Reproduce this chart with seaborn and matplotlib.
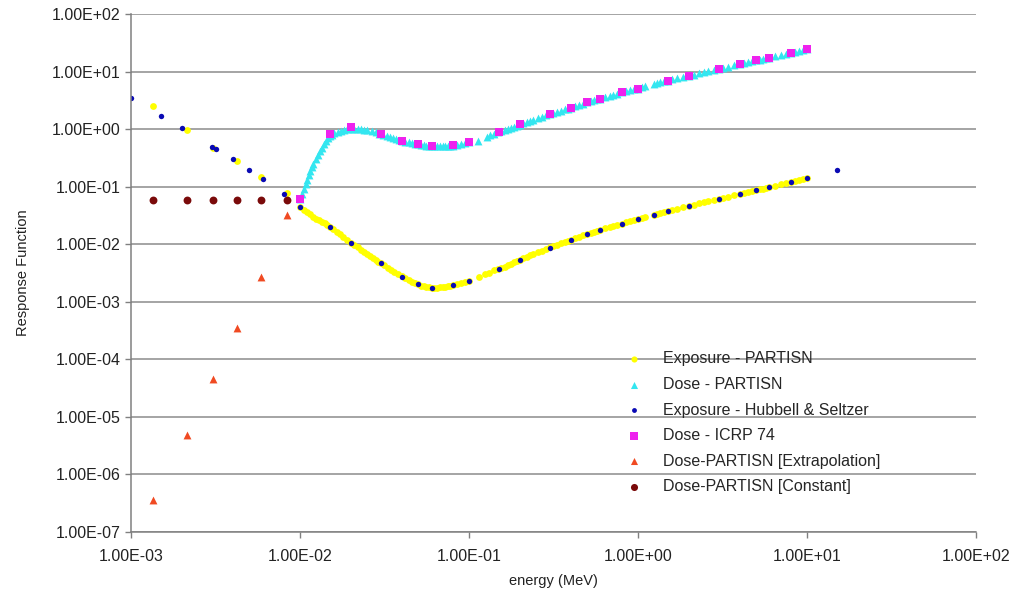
import numpy as np
import pandas as pd
import matplotlib
matplotlib.use("Agg")
import matplotlib.pyplot as plt
import matplotlib.ticker as mticker
import seaborn as sns

# --- data (energy in MeV) ---
exp_partisn_e = [0.00135, 0.00214, 0.00307, 0.00426, 0.00585, 0.0084,
                 0.0100, 0.0105, 0.0110, 0.0115, 0.0120, 0.0125, 0.0130, 0.0135,
                 0.0140, 0.0145, 0.0150, 0.0157, 0.0165, 0.0172, 0.0180, 0.0190,
                 0.0200, 0.0210, 0.0220, 0.0230, 0.0240, 0.0250, 0.0260, 0.0270,
                 0.0280, 0.0290, 0.0300, 0.0315, 0.0330, 0.0345, 0.0360, 0.0380,
                 0.0400, 0.0420, 0.0440, 0.0460, 0.0480, 0.0500, 0.0520, 0.0540,
                 0.0560, 0.0580, 0.0600, 0.0625, 0.0650, 0.0675, 0.0700, 0.0725,
                 0.0750, 0.0775, 0.0800, 0.0850, 0.0900, 0.0950, 0.1000, 0.1150,
                 0.1250, 0.1320, 0.1400, 0.1475, 0.1550, 0.1625, 0.1700, 0.1775,
                 0.1850, 0.1925, 0.2000, 0.2100, 0.2200, 0.2300, 0.2400, 0.2550,
                 0.2700, 0.2850, 0.3000, 0.3150, 0.3300, 0.3500, 0.3700, 0.3850,
                 0.4000, 0.4250, 0.4500, 0.4750, 0.5000, 0.5250, 0.5500, 0.5750,
                 0.6000, 0.6400, 0.6800, 0.7150, 0.7500, 0.8000, 0.8500, 0.9000,
                 0.9500, 1.0000, 1.0500, 1.1000, 1.2500, 1.3000, 1.3500, 1.4200,
                 1.5000, 1.6000, 1.7000, 1.8500, 2.0000, 2.1500, 2.3000, 2.4500,
                 2.6000, 2.8000, 3.0000, 3.2000, 3.4000, 3.7000, 4.0000, 4.2500,
                 4.5000, 4.7500, 5.0000, 5.2500, 5.5000, 5.7500, 6.0000, 6.5000,
                 7.0000, 7.5000, 8.0000, 8.5000, 9.0000, 9.5000, 10.000]
exp_partisn_v = [2.5, 0.97, 0.47, 0.28, 0.15, 0.077,
                 0.0450, 0.0400, 0.0360, 0.0330, 0.0300, 0.0280, 0.0260, 0.0245,
                 0.0230, 0.0215, 0.0200, 0.0183, 0.0165, 0.0150, 0.0135, 0.0120,
                 0.0106, 0.0097, 0.0088, 0.0081, 0.0074, 0.0068, 0.0063, 0.0058,
                 0.0054, 0.0050, 0.0047, 0.0043, 0.0039, 0.0036, 0.0033, 0.0030,
                 0.0028, 0.0026, 0.0024, 0.00225, 0.0021, 0.00203, 0.0019, 0.00185,
                 0.0018, 0.00178, 0.00177, 0.00176, 0.00176, 0.00178, 0.00180, 0.00184,
                 0.00188, 0.00191, 0.00195, 0.00202, 0.0021, 0.0022, 0.0023, 0.0027,
                 0.0030, 0.0032, 0.0035, 0.0037, 0.0039, 0.0041, 0.0044, 0.0046,
                 0.0049, 0.0051, 0.0053, 0.0057, 0.0060, 0.0064, 0.0067, 0.0072,
                 0.0077, 0.0083, 0.0088, 0.0093, 0.0098, 0.0104, 0.0110, 0.0114,
                 0.0118, 0.0126, 0.0135, 0.0144, 0.0152, 0.0158, 0.0165, 0.0172,
                 0.0178, 0.0189, 0.0200, 0.0209, 0.0218, 0.0229, 0.0241, 0.0253,
                 0.0265, 0.0276, 0.0288, 0.0300, 0.0328, 0.0339, 0.0350, 0.0362,
                 0.0376, 0.0395, 0.0415, 0.0440, 0.0464, 0.0490, 0.0515, 0.0538,
                 0.0560, 0.0588, 0.0614, 0.0642, 0.0670, 0.0705, 0.0740, 0.0775,
                 0.0810, 0.0840, 0.0870, 0.0900, 0.0930, 0.0955, 0.0980, 0.1040,
                 0.1100, 0.1150, 0.1200, 0.1250, 0.1300, 0.1350, 0.1400]

dose_partisn_e = [0.0100, 0.0103, 0.0105, 0.0108, 0.0110, 0.0113, 0.0115, 0.0118,
                  0.0120, 0.0124, 0.0127, 0.0131, 0.0135, 0.0139, 0.0143, 0.0147,
                  0.0150, 0.0155, 0.0160, 0.0167, 0.0175, 0.0182, 0.0190, 0.0200,
                  0.0210, 0.0220, 0.0230, 0.0240, 0.0250, 0.0265, 0.0280, 0.0295,
                  0.0310, 0.0325, 0.0340, 0.0355, 0.0370, 0.0385, 0.0400, 0.0420,
                  0.0440, 0.0460, 0.0480, 0.0500, 0.0520, 0.0540, 0.0560, 0.0580,
                  0.0600, 0.0625, 0.0650, 0.0675, 0.0700, 0.0725, 0.0750, 0.0775,
                  0.0800, 0.0850, 0.0900, 0.0950, 0.1000, 0.1130, 0.1270, 0.1330,
                  0.1400, 0.1475, 0.1550, 0.1625, 0.1700, 0.1775, 0.1850, 0.1925,
                  0.2000, 0.2100, 0.2200, 0.2300, 0.2400, 0.2550, 0.2700, 0.2850,
                  0.3000, 0.3150, 0.3300, 0.3500, 0.3700, 0.3850, 0.4000, 0.4250,
                  0.4500, 0.4750, 0.5000, 0.5250, 0.5500, 0.5750, 0.6000, 0.6400,
                  0.6800, 0.7150, 0.7500, 0.8000, 0.8500, 0.9000, 0.9500, 1.0000,
                  1.0500, 1.1000, 1.2500, 1.3000, 1.3500, 1.4200, 1.5000, 1.6000,
                  1.7000, 1.8500, 2.0000, 2.1500, 2.3000, 2.4500, 2.6000, 2.8000,
                  3.0000, 3.2000, 3.4000, 3.7000, 4.0000, 4.2500, 4.5000, 4.7500,
                  5.0000, 5.2500, 5.5000, 5.7500, 6.0000, 6.5000, 7.0000, 7.5000,
                  8.0000, 8.5000, 9.0000, 9.5000, 10.000]
dose_partisn_v = [0.060, 0.075, 0.090, 0.110, 0.130, 0.160, 0.190, 0.220,
                  0.250, 0.300, 0.350, 0.410, 0.480, 0.550, 0.620, 0.690,
                  0.750, 0.800, 0.850, 0.900, 0.940, 0.970, 1.000, 1.015,
                  1.020, 1.010, 1.000, 0.980, 0.960, 0.920, 0.880, 0.840,
                  0.800, 0.765, 0.730, 0.700, 0.670, 0.650, 0.630, 0.610,
                  0.590, 0.575, 0.560, 0.548, 0.535, 0.527, 0.520, 0.515,
                  0.510, 0.507, 0.505, 0.504, 0.505, 0.507, 0.510, 0.515,
                  0.520, 0.540, 0.560, 0.585, 0.610, 0.630, 0.740, 0.780,
                  0.840, 0.880, 0.920, 0.960, 1.00, 1.05, 1.10, 1.15,
                  1.20, 1.27, 1.33, 1.39, 1.45, 1.55, 1.64, 1.73,
                  1.82, 1.91, 2.00, 2.10, 2.20, 2.28, 2.36, 2.50,
                  2.65, 2.79, 2.93, 3.04, 3.15, 3.28, 3.40, 3.60,
                  3.80, 3.98, 4.15, 4.43, 4.60, 4.75, 4.90, 5.05,
                  5.30, 5.60, 6.20, 6.40, 6.60, 6.80, 7.00, 7.30,
                  7.60, 8.05, 8.50, 8.90, 9.30, 9.70, 10.1, 10.6,
                  11.1, 11.6, 12.1, 12.9, 13.7, 14.3, 14.8, 15.3,
                  15.7, 16.2, 16.6, 17.0, 17.4, 18.4, 19.3, 20.3,
                  21.3, 22.2, 23.0, 23.8, 24.6]

hs_e = [0.001, 0.0015, 0.002, 0.003, 0.0032, 0.004, 0.005, 0.006, 0.008,
        0.01, 0.015, 0.02, 0.03, 0.04, 0.05, 0.06, 0.08, 0.1, 0.15, 0.2,
        0.3, 0.4, 0.5, 0.6, 0.8, 1.0, 1.25, 1.5, 2.0, 3.0, 4.0, 5.0, 6.0,
        8.0, 10.0, 15.0]
hs_v = [3.44, 1.72, 1.04, 0.485, 0.448, 0.30, 0.196, 0.137, 0.076,
        0.045, 0.020, 0.0104, 0.0047, 0.00275, 0.00203, 0.00177, 0.00195,
        0.00232, 0.00379, 0.0053, 0.00877, 0.0118, 0.0152, 0.0178, 0.0229,
        0.0276, 0.0328, 0.0376, 0.0464, 0.0614, 0.074, 0.087, 0.098, 0.120,
        0.140, 0.196]

icrp_e = [0.01, 0.015, 0.02, 0.03, 0.04, 0.05, 0.06, 0.08, 0.1, 0.15, 0.2,
          0.3, 0.4, 0.5, 0.6, 0.8, 1.0, 1.5, 2.0, 3.0, 4.0, 5.0, 6.0, 8.0, 10.0]
icrp_v = [0.061, 0.826, 1.08, 0.826, 0.63, 0.553, 0.51, 0.525, 0.607, 0.90,
          1.23, 1.84, 2.36, 2.93, 3.39, 4.43, 5.05, 6.95, 8.49, 11.1, 13.7,
          15.7, 17.4, 21.3, 24.6]

extrap_e = [0.00135, 0.00214, 0.00307, 0.00426, 0.00585, 0.0084]
extrap_v = [3.65e-7, 4.9e-6, 4.55e-5, 3.44e-4, 2.75e-3, 0.0324]

const_e = [0.00135, 0.00214, 0.00307, 0.00426, 0.00585, 0.0084]
const_v = [0.059, 0.059, 0.059, 0.059, 0.059, 0.059]

sns.set_style("white")
plt.rcParams['font.family'] = ['Liberation Sans', 'DejaVu Sans']

fig = plt.figure(figsize=(10.18, 5.96), dpi=100)
ax = fig.add_axes([0.1287, 0.1074, 0.83, 0.869])

series = [
    ("Exposure - PARTISN", exp_partisn_e, exp_partisn_v, "#FFFF00", "o", 24),
    ("Dose - PARTISN", dose_partisn_e, dose_partisn_v, "#33E6F0", "^", 32),
    ("Exposure - Hubbell & Seltzer", hs_e, hs_v, "#0A0AB4", "o", 15),
    ("Dose - ICRP 74", icrp_e, icrp_v, "#EE22EE", "s", 36),
    ("Dose-PARTISN [Extrapolation]", extrap_e, extrap_v, "#F04A22", "^", 32),
    ("Dose-PARTISN [Constant]", const_e, const_v, "#7A0A0A", "o", 32),
]
for label, e, v, col, mk, size in series:
    df = pd.DataFrame({"energy": e, "resp": v})
    sns.scatterplot(data=df, x="energy", y="resp", ax=ax, color=col, marker=mk,
                    s=size, linewidth=0, label=label)

ax.set_xscale("log")
ax.set_yscale("log")
ax.set_xlim(1e-3, 1e2)
ax.set_ylim(1e-7, 1e2)
ax.xaxis.set_major_locator(mticker.LogLocator(base=10, numticks=20))
ax.yaxis.set_major_locator(mticker.LogLocator(base=10, numticks=20))
ax.xaxis.set_minor_locator(mticker.NullLocator())
ax.yaxis.set_minor_locator(mticker.NullLocator())
fmt = mticker.FuncFormatter(lambda v, p: f"{v:.2E}")
ax.xaxis.set_major_formatter(fmt)
ax.yaxis.set_major_formatter(fmt)

ax.yaxis.grid(True, color="#8c8c8c", linewidth=1.1)
ax.xaxis.grid(False)
for s in ["top", "right"]:
    ax.spines[s].set_visible(False)
for s in ["left", "bottom"]:
    ax.spines[s].set_color("#808080")
    ax.spines[s].set_linewidth(1.1)
ax.tick_params(axis="both", which="major", direction="out", length=4.5, width=1.0,
               color="#808080", labelsize=11.5, labelcolor="#222222",
               left=True, bottom=True)
ax.tick_params(axis="x", pad=8)
ax.tick_params(axis="y", pad=3)

ax.set_xlabel("energy (MeV)", fontsize=10.5, color="#222222", labelpad=7)
ax.set_ylabel("Response Function", fontsize=10.5, color="#222222", labelpad=16)

ax.legend(loc="upper left", bbox_to_anchor=(0.601, 0.421), bbox_transform=fig.transFigure,
          frameon=False, fontsize=11.5, labelspacing=0.66, handletextpad=0.8,
          markerscale=0.9, borderaxespad=0)

fig.savefig("out.png", dpi=100)
